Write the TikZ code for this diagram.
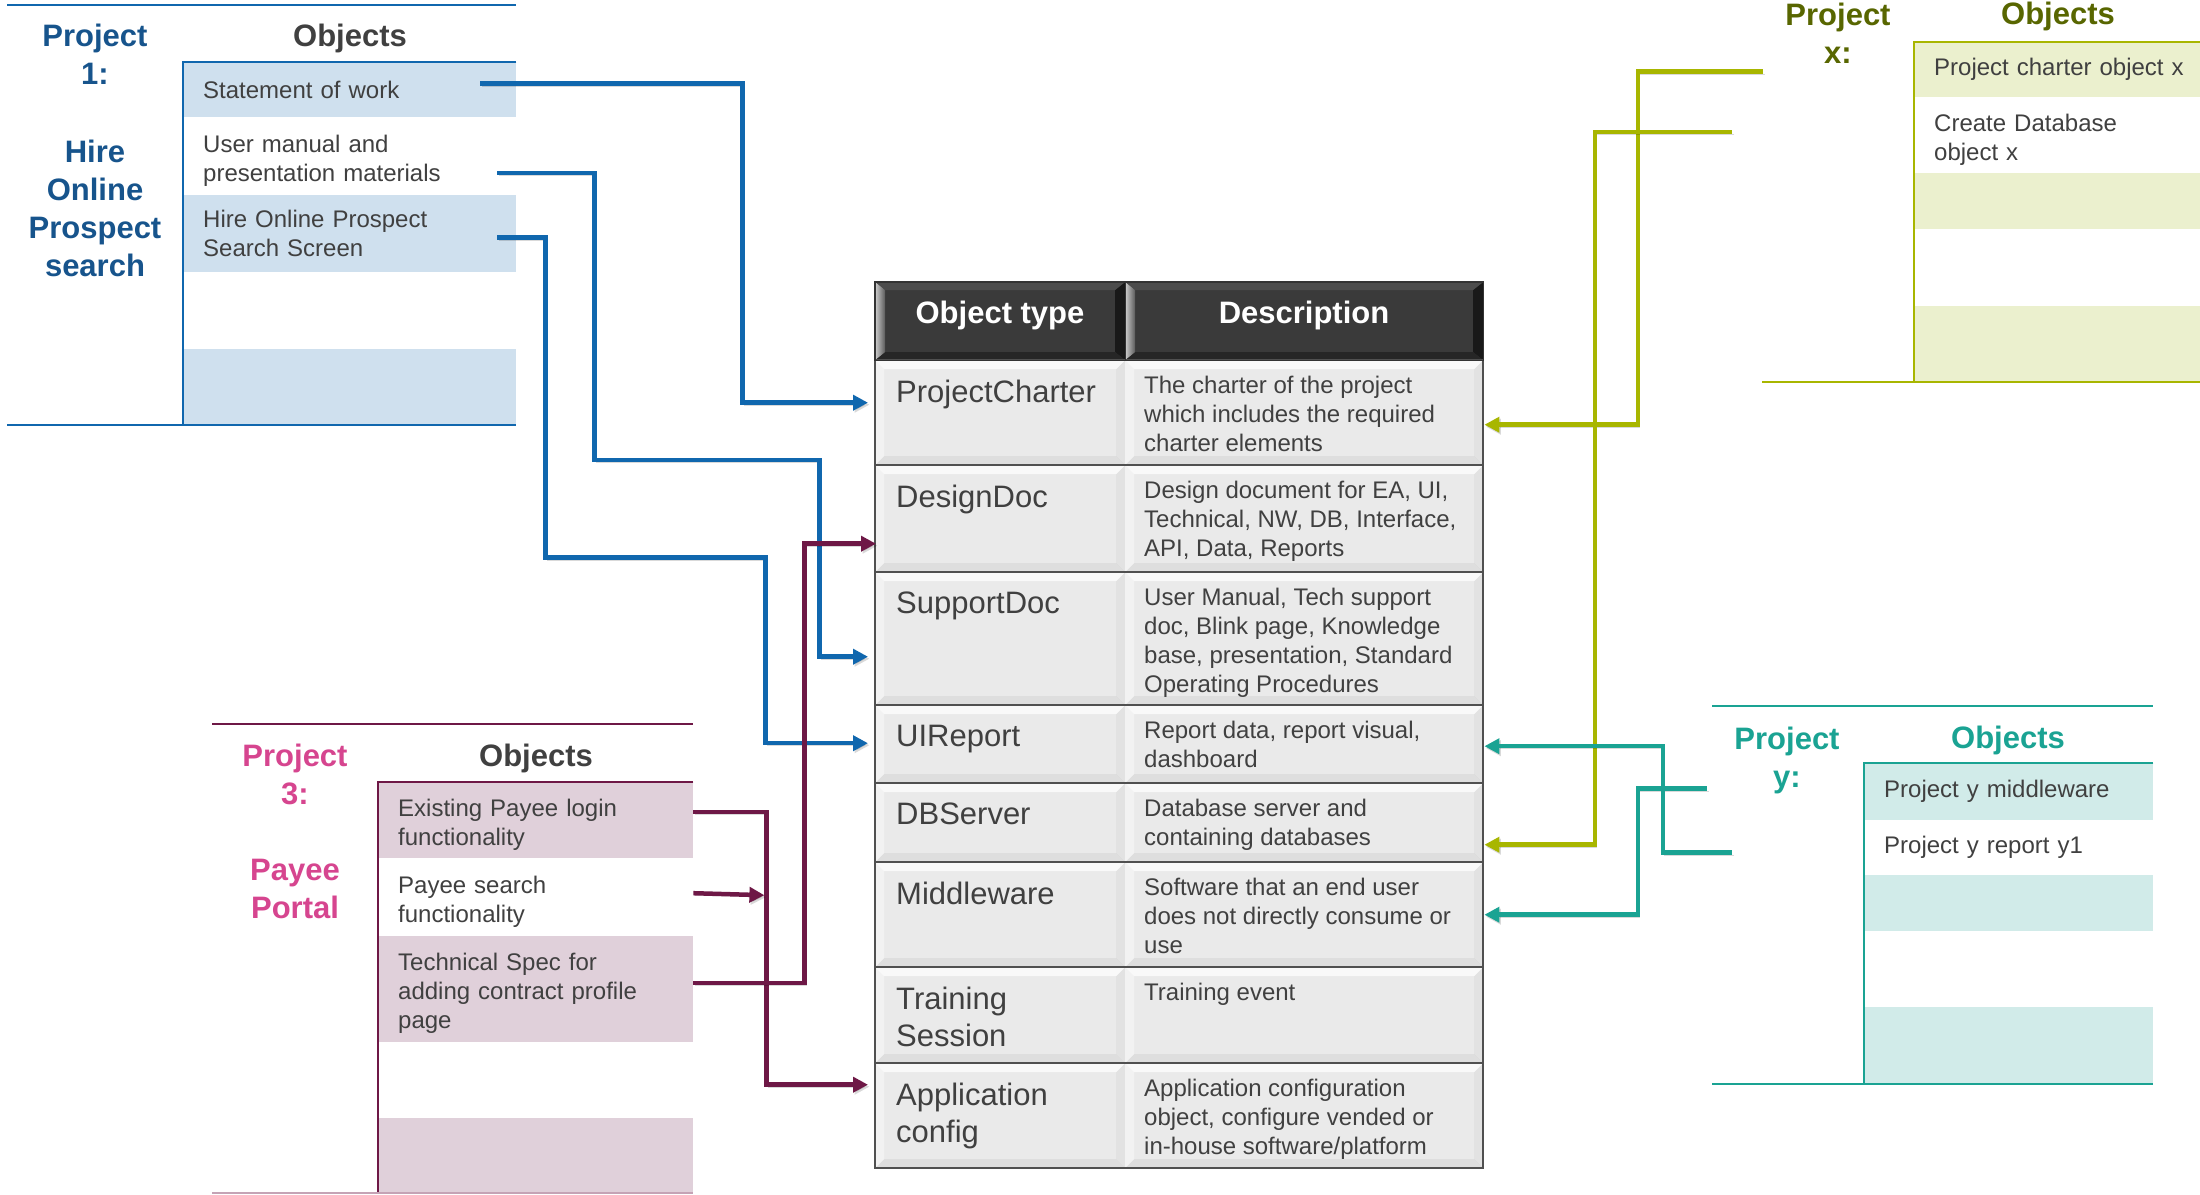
\documentclass[tikz,border=0pt]{standalone}
\usepackage{fontspec}
\setmainfont{Liberation Sans}
\usetikzlibrary{arrows.meta}

\definecolor{pblue}{RGB}{16,103,174}
\definecolor{pbluetxt}{RGB}{23,84,140}
\definecolor{pbluefill}{RGB}{207,224,238}
\definecolor{ppurp}{RGB}{110,24,70}
\definecolor{ppurptxt}{RGB}{214,69,143}
\definecolor{ppurpfill}{RGB}{224,208,218}
\definecolor{pgreen}{RGB}{168,182,0}
\definecolor{pgreentxt}{RGB}{88,102,0}
\definecolor{pgreenfill}{RGB}{235,240,206}
\definecolor{pteal}{RGB}{26,163,147}
\definecolor{ptealfill}{RGB}{209,235,233}
\definecolor{txtgray}{RGB}{64,64,64}
\definecolor{cellgray}{RGB}{234,234,234}
\definecolor{headgray}{RGB}{58,58,58}
\definecolor{tabline}{RGB}{80,80,80}

\tikzset{
  item/.style={anchor=north west, inner xsep=20pt, inner ysep=0pt, align=left,
    text=txtgray, font=\fontsize{24}{29}\selectfont},
  multi/.style={execute at begin node={\rule{0pt}{26pt}}},
  p1row/.style={item, text width=293pt},
  p3row/.style={item, text width=275pt},
  pxrow/.style={item, text width=270pt},
  pyrow/.style={item, text width=249pt},
  ttl/.style={align=center, inner sep=0pt, font=\fontsize{31}{38}\selectfont\bfseries},
  rule/.style={line width=2.5pt},
  link/.style={line width=4.5pt, -{Triangle[length=15pt,width=15pt]},
    preaction={draw=black, opacity=.15, transform canvas={shift={(1.5pt,-2pt)}}}},
  typetxt/.style={anchor=north west, inner sep=0pt, align=left, text=txtgray,
    font=\fontsize{31}{37}\selectfont},
  desctxt/.style={anchor=north west, inner sep=0pt, align=left, text=txtgray,
    font=\fontsize{24}{29}\selectfont},
  headtxt/.style={anchor=base, inner sep=0pt, text=white, font=\fontsize{31}{38}\selectfont\bfseries},
  cellbox/.style={anchor=north west, fill=cellgray, inner sep=0pt, path picture={
    \path (path picture bounding box.north west) coordinate (bNW)
      (path picture bounding box.north east) coordinate (bNE)
      (path picture bounding box.south east) coordinate (bSE)
      (path picture bounding box.south west) coordinate (bSW);
    \fill[white, opacity=.75] (bNW) -- (bNE) -- ([shift={(-9,9)}]bNE) -- ([shift={(9,9)}]bNW) -- cycle;
    \fill[white, opacity=.4] (bNW) -- ([shift={(9,9)}]bNW) -- ([shift={(9,-9)}]bSW) -- (bSW) -- cycle;
    \fill[black, opacity=.03] (bNE) -- (bSE) -- ([shift={(-9,-9)}]bSE) -- ([shift={(-9,9)}]bNE) -- cycle;
    \fill[black, opacity=.05] (bSW) -- (bSE) -- ([shift={(-9,-9)}]bSE) -- ([shift={(9,-9)}]bSW) -- cycle;}},
  headbox/.style={anchor=north west, fill=headgray, inner sep=0pt, minimum height=78pt, path picture={
    \path (path picture bounding box.north west) coordinate (bNW)
      (path picture bounding box.north east) coordinate (bNE)
      (path picture bounding box.south east) coordinate (bSE)
      (path picture bounding box.south west) coordinate (bSW);
    \fill[black!70!white] (bNW) -- (bNE) -- ([shift={(-10,8)}]bNE) -- ([shift={(10,8)}]bNW) -- cycle;
    \fill[left color=black!20, right color=black!65] (bNW) -- ([shift={(10,8)}]bNW) -- ([shift={(10,-8)}]bSW) -- (bSW) -- cycle;
    \fill[black!90] (bNE) -- (bSE) -- ([shift={(-10,-8)}]bSE) -- ([shift={(-10,8)}]bNE) -- cycle;
    \fill[black!85] (bSW) -- (bSE) -- ([shift={(-10,-8)}]bSE) -- ([shift={(10,-8)}]bSW) -- cycle;}},
}

\begin{document}
\begin{tikzpicture}[x=1pt, y=-1pt]
\useasboundingbox (0,0) rectangle (2200,1194);
\fill[white] (0,0) rectangle (2200,1194);

% object type table
\node[headbox, minimum width=250pt] (ot) at (875,282) {};
\node[headbox, minimum width=358pt] (ds) at (1125,282) {};
\node[headtxt] (ottxt) at (1000,323) {Object type};
\node[headtxt] (dstxt) at (1304,323) {Description};
\foreach \n/\yy/\hh/\lbl/\dsc in {
  pc/360/105/{ProjectCharter}/{The charter of the project\\which includes the required\\charter elements},
  dd/465/107/{DesignDoc}/{Design document for EA, UI,\\Technical, NW, DB, Interface,\\API, Data, Reports},
  sd/572/133/{SupportDoc}/{User Manual, Tech support\\doc, Blink page, Knowledge\\base, presentation, Standard\\Operating Procedures},
  ui/705/78/{UIReport}/{Report data, report visual,\\dashboard},
  db/783/79/{DBServer}/{Database server and\\containing databases},
  mw/862/105/{Middleware}/{Software that an end user\\does not directly consume or\\use},
  ts/967/96/{Training\\Session}/{Training event},
  ac/1063/105/{Application\\config}/{Application configuration\\object, configure vended or\\in-house software/platform}}
{
  \node[cellbox, minimum width=250pt, minimum height=\hh] (\n) at (875,\yy) {};
  \node[cellbox, minimum width=358pt, minimum height=\hh] (d\n) at (1125,\yy) {};
  \node[typetxt] (t\n) at ([shift={(21,20)}]\n.north west) {\lbl};
  \node[desctxt] (td\n) at ([shift={(19,16)}]d\n.north west) {\dsc};
}
\draw[tabline, line width=2pt] (pc.north west) rectangle (dac.south east);
\foreach \n in {pc,dd,sd,ui,db,mw,ts}
  \draw[tabline, line width=2pt] (\n.south west) -- (d\n.south east);
\draw[black!80, line width=1.5pt] (ot.north west) rectangle (ds.south east);
\draw[black!80, line width=1.5pt] (ot.north east) -- (ot.south east);

% project 1
\draw[pblue, rule] (7,5) -- (516,5);
\node[ttl, text=pbluetxt] (p1name) at (95,54) {Project\\1:};
\node[ttl, text=pbluetxt] (p1desc) at (95,208) {Hire\\Online\\Prospect\\search};
\node[ttl, text=txtgray] (p1obj) at (350,38) {Objects};
\node[p1row, fill=pbluefill, minimum height=55pt] (sow) at (183,62) {Statement of work};
\node[p1row, multi, minimum height=78pt] (uman) at (183,117) {User manual and\\presentation materials};
\node[p1row, fill=pbluefill, minimum height=77pt] (hops) at (183,195) {Hire Online Prospect\\Search Screen};
\node[p1row, minimum height=77pt] (p1e1) at (183,272) {};
\node[p1row, fill=pbluefill, minimum height=76pt] (p1e2) at (183,349) {};
\draw[pblue, rule] (sow.north east) -- (sow.north west) -- (p1e2.south west);
\draw[pblue, rule] (7,425) -- (516,425);

% project 3
\draw[ppurp, rule] (212,724) -- (693,724);
\node[ttl, text=ppurptxt] (p3name) at (295,774) {Project\\3:};
\node[ttl, text=ppurptxt] (p3desc) at (295,889) {Payee\\Portal};
\node[ttl, text=txtgray] (p3obj) at (536,758) {Objects};
\node[p3row, multi, fill=ppurpfill, minimum height=76pt] (exist) at (378,782) {Existing Payee login\\functionality};
\node[p3row, multi, minimum height=78pt] (psearch) at (378,858) {Payee search\\functionality};
\node[p3row, multi, fill=ppurpfill, minimum height=106pt] (tspec) at (378,936) {Technical Spec for\\adding contract profile\\page};
\node[p3row, minimum height=76pt] (p3e1) at (378,1042) {};
\node[p3row, fill=ppurpfill, minimum height=76pt] (p3e2) at (378,1118) {};
\draw[ppurp, rule] (exist.north east) -- (exist.north west) -- (p3e2.south west);
\draw[ppurp!40, rule] (212,1193) -- (693,1193);

% project x
\node[ttl, text=pgreentxt] (pxname) at (1838,33) {Project\\x:};
\node[ttl, text=pgreentxt] (pxobj) at (2058,16) {Objects};
\node[pxrow, fill=pgreenfill, minimum height=55pt] (pcx) at (1914,42) {Project charter object x};
\node[pxrow, multi, minimum height=76pt] (cdb) at (1914,97) {Create Database\\object x};
\node[pxrow, fill=pgreenfill, minimum height=56pt] (pxe1) at (1914,173) {};
\node[pxrow, minimum height=77pt] (pxe2) at (1914,229) {};
\node[pxrow, fill=pgreenfill, minimum height=76pt] (pxe3) at (1914,306) {};
\draw[pgreen, rule] (pcx.north east) -- (pcx.north west) -- (pxe3.south west);
\draw[pgreen, rule] (1762,382) -- (2200,382);

% project y
\draw[pteal, rule] (1712,706) -- (2153,706);
\node[ttl, text=pteal] (pyname) at (1787,760) {Project\\y:};
\node[ttl, text=pteal] (pyobj) at (2008,740) {Objects};
\node[pyrow, fill=ptealfill, minimum height=57pt] (pym) at (1864,763) {Project y middleware};
\node[pyrow, minimum height=55pt] (pyr) at (1864,820) {Project y report y1};
\node[pyrow, fill=ptealfill, minimum height=56pt] (pye1) at (1864,875) {};
\node[pyrow, minimum height=76pt] (pye2) at (1864,931) {};
\node[pyrow, fill=ptealfill, minimum height=77pt] (pye3) at (1864,1007) {};
\draw[pteal, rule] (pym.north east) -- (pym.north west) -- (pye3.south west);
\draw[pteal, rule] (1712,1084) -- (2153,1084);

% links
\draw[link, pblue] ([shift={(-36,-6)}]sow.east) --++ (262,0) |- ([shift={(-7,-10)}]pc.west);
\draw[link, pblue] ([shift={(-19,17)}]uman.east) --++ (97,0) --++ (0,287) --++ (225,0) |- ([shift={(-7,18)}]sd.west);
\draw[link, pblue] ([shift={(-19,4)}]hops.east) --++ (48,0) --++ (0,320) --++ (220,0) |- ([shift={(-7,-1)}]ui.west);
\draw[link, ppurp] ([shift={(0,-8)}]exist.east) --++ (73,0) |- ([shift={(-7,-31)}]ac.west);
\draw[link, ppurp] ([shift={(0,-4)}]psearch.east) --++ (71,2);
\draw[link, ppurp] ([shift={(0,-6)}]tspec.east) --++ (111,0) |- ([shift={(1,25)}]dd.west);
\draw[link, pgreen] ([shift={(-151,2)}]pcx.west) --++ (-125,0) |- ([shift={(1,12)}]dpc.east);
\draw[link, pgreen] ([shift={(-182,-3)}]cdb.west) --++ (-137,0) |- ([shift={(1,22)}]ddb.east);
\draw[link, pteal] ([shift={(-157,-3)}]pym.west) --++ (-69,0) |- ([shift={(1,0)}]dmw.east);
\draw[link, pteal] ([shift={(-132,5)}]pyr.west) --++ (-69,0) |- ([shift={(1,2)}]dui.east);
\end{tikzpicture}
\end{document}
